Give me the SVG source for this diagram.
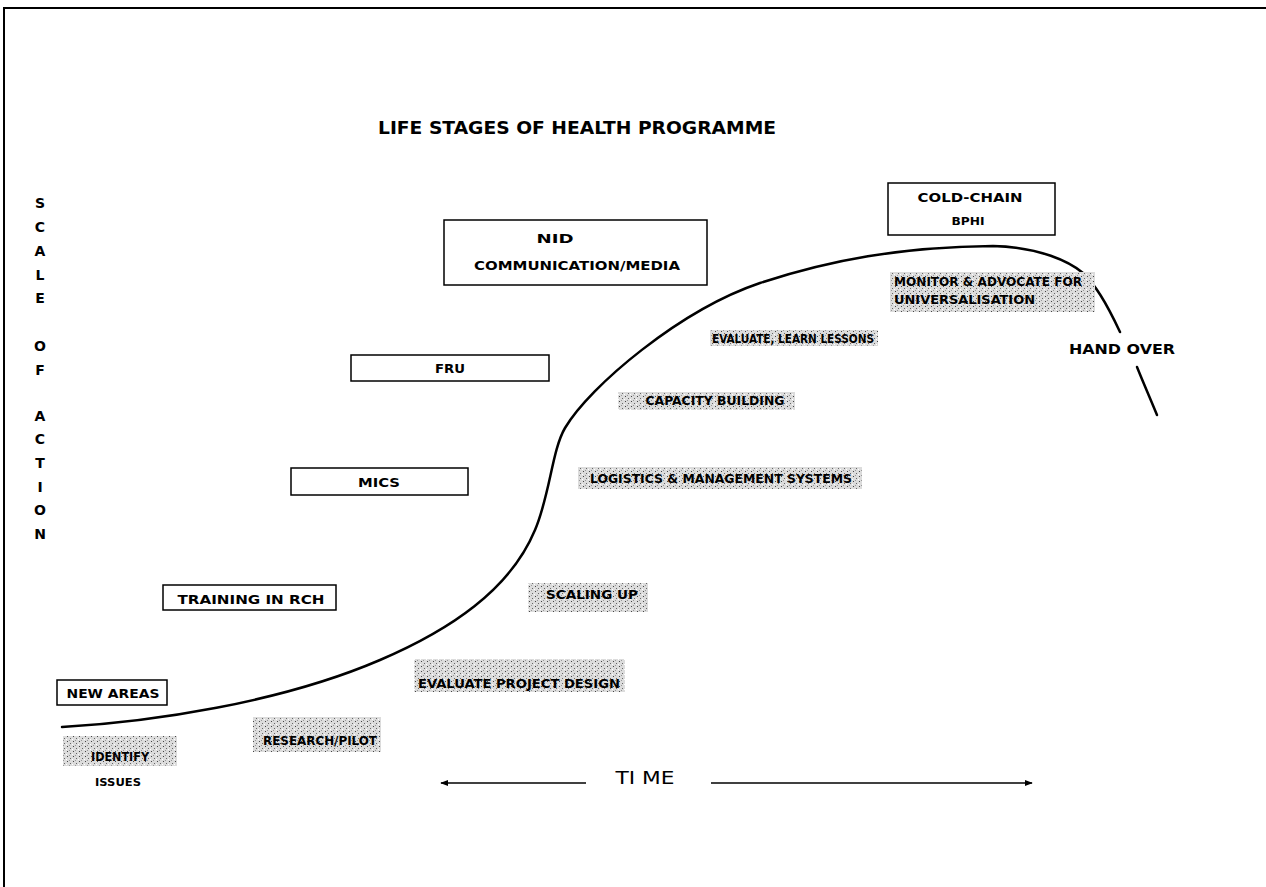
<svg xmlns="http://www.w3.org/2000/svg" width="1266" height="887" viewBox="0 0 1266 887">
<style>
.frame{stroke:#000;stroke-width:2;fill:none}
.box{fill:#fff;stroke:#000;stroke-width:1.5}
.lbl{font-family:"DejaVu Sans","Liberation Sans",sans-serif;font-weight:bold;fill:#000;text-anchor:middle}
.shade{fill:url(#speck);stroke:none}
.sl{font-family:"DejaVu Sans Condensed","DejaVu Sans",sans-serif;font-weight:bold;fill:#000;font-size:13px}
.axis{font-family:"DejaVu Sans",sans-serif;font-weight:bold;font-size:14px;text-anchor:middle}
.curve{fill:none;stroke:#000;stroke-width:2.5;stroke-linecap:round;stroke-linejoin:round}
.time{stroke:#000;stroke-width:1.6;fill:none}
</style>
<defs>
<pattern id="speck" width="6" height="5" patternUnits="userSpaceOnUse">
<rect width="6" height="5" fill="#dcdcdc"/>
<rect x="1" y="1" width="1" height="1" fill="#444"/>
<rect x="4" y="3" width="1" height="1" fill="#666"/>
<rect x="3" y="0" width="1" height="1" fill="#999"/>
<rect x="0" y="4" width="1" height="1" fill="#fff"/>
</pattern>
<marker id="ah" viewBox="0 0 10 10" refX="9" refY="5" markerWidth="8" markerHeight="8" orient="auto-start-reverse" markerUnits="userSpaceOnUse">
<path d="M0,1 L10,5 L0,9 z" fill="#000"/>
</marker>
</defs>
<rect width="1266" height="887" fill="#fff"/>
<path class="frame" d="M4,887 L4,8 L1266,8"/>

<text id="title" x="577" y="134" class="lbl" font-size="18" textLength="398" lengthAdjust="spacingAndGlyphs">LIFE STAGES OF HEALTH PROGRAMME</text>

<g id="y-axis" class="axis">
<text x="40" y="208">S</text>
<text x="40" y="232">C</text>
<text x="40" y="256">A</text>
<text x="40" y="280">L</text>
<text x="40" y="303">E</text>
<text x="40" y="351">O</text>
<text x="40" y="375">F</text>
<text x="40" y="421">A</text>
<text x="40" y="444">C</text>
<text x="40" y="468">T</text>
<text x="40" y="492">I</text>
<text x="40" y="515">O</text>
<text x="40" y="539">N</text>
</g>

<g id="connectors">
<path class="curve" d="M62,727 C150,722 280,703 380,660 C450,630 510,590 535,530 C550,495 552,450 565,428 C590,386 680,310 760,283 C830,260 900,247 993,246 C1040,247 1070,262 1083,273 C1095,285 1105,300 1120,332"/>
<path class="curve" d="M1137,367 C1143,382 1150,398 1157,415"/>
<line class="time" x1="586" y1="783" x2="441" y2="783" marker-end="url(#ah)"/>
<line class="time" x1="711" y1="783" x2="1032" y2="783" marker-end="url(#ah)"/>
</g>

<g id="nid">
<rect class="box" x="444" y="220" width="263" height="65"/>
<text class="lbl" x="555" y="243" font-size="13" textLength="37" lengthAdjust="spacingAndGlyphs">NID</text>
<text class="lbl" x="577" y="270" font-size="13" textLength="206" lengthAdjust="spacingAndGlyphs">COMMUNICATION/MEDIA</text>
</g>
<g id="coldchain">
<rect class="box" x="888" y="183" width="167" height="52"/>
<text class="lbl" x="970" y="202" font-size="13" textLength="105" lengthAdjust="spacingAndGlyphs">COLD-CHAIN</text>
<text class="lbl" x="968" y="225" font-size="11" textLength="33" lengthAdjust="spacingAndGlyphs">BPHI</text>
</g>
<g id="fru">
<rect class="box" x="351" y="355" width="198" height="26"/>
<text class="lbl" x="450" y="373" font-size="13" textLength="30" lengthAdjust="spacingAndGlyphs">FRU</text>
</g>
<g id="mics">
<rect class="box" x="291" y="468" width="177" height="27"/>
<text class="lbl" x="379" y="487" font-size="13" textLength="42" lengthAdjust="spacingAndGlyphs">MICS</text>
</g>
<g id="training">
<rect class="box" x="163" y="585" width="173" height="25"/>
<text class="lbl" x="251" y="604" font-size="13" textLength="147" lengthAdjust="spacingAndGlyphs">TRAINING IN RCH</text>
</g>
<g id="newareas">
<rect class="box" x="57" y="680" width="110" height="25"/>
<text class="lbl" x="113" y="698" font-size="13" textLength="93" lengthAdjust="spacingAndGlyphs">NEW AREAS</text>
</g>

<g id="identify">
<rect class="shade" x="63" y="736" width="114" height="30"/>
<text class="sl" x="120" y="761" text-anchor="middle" textLength="58" lengthAdjust="spacingAndGlyphs">IDENTIFY</text>
<text class="lbl" x="118" y="786" font-size="11" font-weight="normal" textLength="46" lengthAdjust="spacingAndGlyphs">ISSUES</text>
</g>
<g id="research">
<rect class="shade" x="253" y="717" width="128" height="35"/>
<text class="sl" x="320" y="745" text-anchor="middle" textLength="114" lengthAdjust="spacingAndGlyphs">RESEARCH/PILOT</text>
</g>
<g id="evaldesign">
<rect class="shade" x="414" y="659" width="211" height="33"/>
<text class="sl" x="519" y="688" text-anchor="middle" textLength="202" lengthAdjust="spacingAndGlyphs">EVALUATE PROJECT DESIGN</text>
</g>
<g id="scaling">
<rect class="shade" x="528" y="583" width="120" height="29"/>
<text class="sl" x="592" y="599" text-anchor="middle" textLength="92" lengthAdjust="spacingAndGlyphs">SCALING UP</text>
</g>
<g id="logistics">
<rect class="shade" x="578" y="467" width="284" height="22"/>
<text class="sl" x="721" y="483" text-anchor="middle" textLength="262" lengthAdjust="spacingAndGlyphs">LOGISTICS &amp; MANAGEMENT SYSTEMS</text>
</g>
<g id="capacity">
<rect class="shade" x="618" y="392" width="177" height="18"/>
<text class="sl" x="715" y="405" text-anchor="middle" textLength="139" lengthAdjust="spacingAndGlyphs">CAPACITY BUILDING</text>
</g>
<g id="evallearn">
<rect class="shade" x="710" y="330" width="168" height="16"/>
<text class="sl" x="793" y="343" text-anchor="middle" textLength="162" lengthAdjust="spacingAndGlyphs">EVALUATE, LEARN LESSONS</text>
</g>
<g id="monitor">
<rect class="shade" x="890" y="272" width="205" height="40"/>
<text class="sl" x="894" y="286" textLength="188" lengthAdjust="spacingAndGlyphs">MONITOR &amp; ADVOCATE FOR</text>
<text class="sl" x="894" y="304" textLength="141" lengthAdjust="spacingAndGlyphs">UNIVERSALISATION</text>
</g>
<g id="handover">
<text class="lbl" x="1122" y="354" font-size="14" textLength="106" lengthAdjust="spacingAndGlyphs">HAND OVER</text>
</g>
<g id="time">
<text x="645" y="784" font-family="DejaVu Sans, sans-serif" font-size="17" text-anchor="middle" textLength="59" lengthAdjust="spacingAndGlyphs">TI ME</text>
</g>
</svg>
